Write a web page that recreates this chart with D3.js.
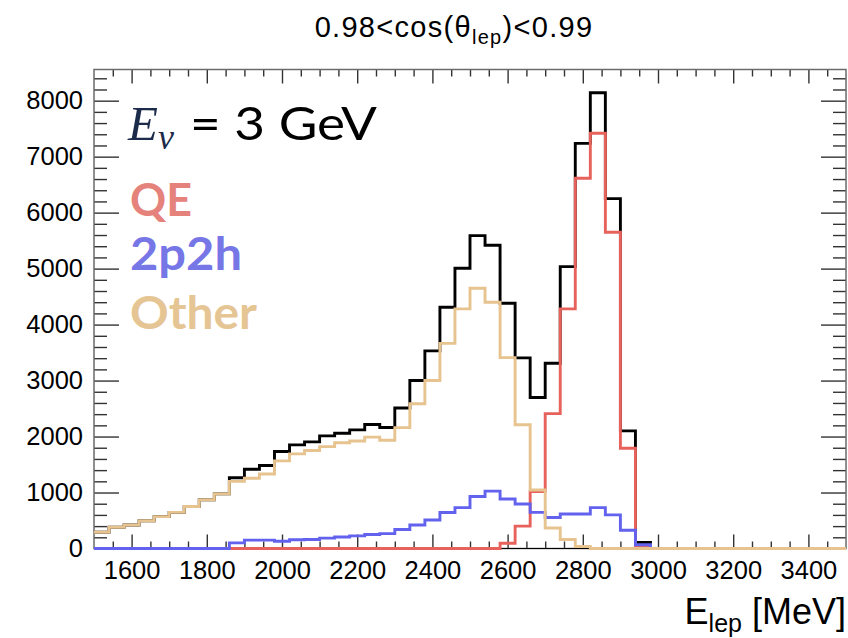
<!DOCTYPE html>
<html>
<head>
<meta charset="utf-8">
<script src="https://cdn.jsdelivr.net/npm/d3@7"></script>
<style>
  body { margin: 0; background: #fff; }
  svg { display: block; }
  .tick text { font-family: "Liberation Sans", Arial, sans-serif; font-size: 25.5px; fill: #000; }
  .tick line { stroke: #333; stroke-width: 1.4; }
</style>
</head>
<body>
<div id="chart"></div>
<script>
// Binning of the lepton energy histograms (MeV)
var binLow = 1500;
var binWidth = 40;

// Bin contents, one entry per 40 MeV bin from 1500 to 3500
var totalCounts = [290, 380, 420, 495, 570, 645, 750, 870, 975, 1265,
    1417, 1482, 1732, 1852, 1905, 2012, 2060, 2119, 2214, 2161,
    2510, 3000, 3530, 4310, 5007, 5590, 5418, 4382, 3405, 2697,
    3310, 5036, 7238, 8143, 6250, 2102, 107, 0, 0, 0,
    0, 0, 0, 0, 0, 0, 0, 0, 0, 0];
var qeCounts = [0, 0, 0, 0, 0, 0, 0, 0, 0, 0,
    0, 0, 0, 0, 0, 0, 0, 0, 0, 0,
    0, 0, 0, 0, 0, 0, 0, 95, 400, 1018,
    2410, 4280, 6614, 7418, 5650, 1792, 48, 0, 0, 0,
    0, 0, 0, 0, 0, 0, 0, 0, 0, 0];
var mecCounts = [0, 0, 0, 0, 0, 0, 0, 0, 0, 100,
    150, 150, 130, 155, 160, 185, 205, 225, 250, 265,
    340, 420, 510, 643, 730, 930, 1025, 885, 795, 645,
    555, 615, 615, 730, 600, 325, 66, 0, 0, 0,
    0, 0, 0, 0, 0, 0, 0, 0, 0, 0];
var otherCounts = [290, 380, 420, 495, 570, 645, 750, 870, 975, 1200,
    1255, 1330, 1565, 1690, 1750, 1820, 1890, 1920, 1990, 1935,
    2160, 2585, 3000, 3665, 4280, 4650, 4400, 3410, 2210, 1045,
    365, 160, 35, 0, 0, 0, 0, 0, 0, 0,
    0, 0, 0, 0, 0, 0, 0, 0, 0, 0];

// Axis ticks
var xMajorTicks = [1600, 1800, 2000, 2200, 2400, 2600, 2800, 3000, 3200, 3400];
var yMajorTicks = [0, 1000, 2000, 3000, 4000, 5000, 6000, 7000, 8000];

var svgWidth = 848;
var svgHeight = 638;

var margin = { top: 69.5, right: 2, bottom: 89.5, left: 94 };
var width = svgWidth - margin.left - margin.right;
var height = svgHeight - margin.top - margin.bottom;

var svg = d3.select("#chart")
    .append("svg")
    .attr("width", svgWidth)
    .attr("height", svgHeight);

var chartGroup = svg.append("g")
    .attr("transform", `translate(${margin.left}, ${margin.top})`);

var xScale = d3.scaleLinear().domain([1500, 3500]).range([0, width]);
var yScale = d3.scaleLinear().domain([0, 8557]).range([height, 0]);

// Minor ticks every 50 MeV and every 200 entries
var xMinor = d3.range(1550, 3500, 50).filter(d => d % 200 !== 0);
var yMinor = d3.range(200, 8557, 200).filter(d => d % 1000 !== 0);

function drawAxis(axis, transform) {
    var g = chartGroup.append("g")
        .attr("transform", transform)
        .call(axis);
    g.select(".domain").remove();
    return g;
}

// bottom and top
drawAxis(d3.axisBottom(xScale).tickValues(xMajorTicks).tickSize(-14).tickPadding(12)
    .tickFormat(d3.format("d")), `translate(0, ${height})`);
drawAxis(d3.axisBottom(xScale).tickValues(xMinor).tickSize(-7).tickFormat(""),
    `translate(0, ${height})`);
drawAxis(d3.axisTop(xScale).tickValues(xMajorTicks).tickSize(-14).tickFormat(""), "translate(0,0)");
drawAxis(d3.axisTop(xScale).tickValues(xMinor).tickSize(-7).tickFormat(""), "translate(0,0)");

// left and right
drawAxis(d3.axisLeft(yScale).tickValues(yMajorTicks).tickSize(-25).tickPadding(11)
    .tickFormat(d3.format("d")), "translate(0,0)");
drawAxis(d3.axisLeft(yScale).tickValues(yMinor).tickSize(-13).tickFormat(""), "translate(0,0)");
drawAxis(d3.axisRight(yScale).tickValues(yMajorTicks).tickSize(-25).tickFormat(""),
    `translate(${width}, 0)`);
drawAxis(d3.axisRight(yScale).tickValues(yMinor).tickSize(-13).tickFormat(""),
    `translate(${width}, 0)`);

// frame
chartGroup.append("rect")
    .attr("width", width)
    .attr("height", height)
    .attr("fill", "none")
    .attr("stroke", "#6b6b6b")
    .attr("stroke-width", 1.5);

chartGroup.append("line")
    .attr("x1", 0).attr("x2", width)
    .attr("y1", height).attr("y2", height)
    .attr("stroke", "#000")
    .attr("stroke-width", 1.2);

chartGroup.append("clipPath")
    .attr("id", "frameClip")
    .append("rect")
    .attr("x", -1).attr("y", 0)
    .attr("width", width + 2)
    .attr("height", height + 2);

// step outline of a histogram
var stepLine = d3.line()
    .x(d => xScale(d[0]))
    .y(d => yScale(d[1]))
    .curve(d3.curveStepAfter);

function histPoints(counts) {
    var pts = counts.map((c, i) => [binLow + i * binWidth, c]);
    pts.push([binLow + counts.length * binWidth, counts[counts.length - 1]]);
    return pts;
}

var series = [
    { counts: totalCounts, color: "#000000" },
    { counts: qeCounts, color: "#e8625c" },
    { counts: mecCounts, color: "#6262ee" },
    { counts: otherCounts, color: "#e6c38f" }
];

chartGroup.append("g")
    .attr("clip-path", "url(#frameClip)")
    .selectAll("path")
    .data(series)
    .enter()
    .append("path")
    .attr("d", d => stepLine(histPoints(d.counts)))
    .attr("fill", "none")
    .attr("stroke", d => d.color)
    .attr("stroke-width", 2.9);

// legend-style labels
var energyLabel = svg.append("text")
    .attr("x", 128)
    .attr("y", 140);
energyLabel.append("tspan")
    .attr("font-family", "'Liberation Serif', serif")
    .attr("font-style", "italic")
    .attr("font-size", 49)
    .attr("fill", "#1c2b4a")
    .text("E");
energyLabel.append("tspan")
    .attr("font-family", "'Liberation Serif', serif")
    .attr("font-style", "italic")
    .attr("font-size", 36)
    .attr("dy", 9)
    .attr("fill", "#1c2b4a")
    .text("ν");

svg.append("text")
    .attr("x", 190)
    .attr("y", 140)
    .attr("font-family", "Lato, sans-serif")
    .attr("font-size", 46)
    .attr("textLength", 187)
    .attr("lengthAdjust", "spacingAndGlyphs")
    .text("= 3 GeV");

var channelLabels = [
    { text: "QE", y: 216, color: "#e5827b", w: 62 },
    { text: "2p2h", y: 270, color: "#7676e6", w: 112 },
    { text: "Other", y: 329, color: "#e6c594", w: 127 }
];

svg.selectAll(".channel")
    .data(channelLabels)
    .enter()
    .append("text")
    .attr("class", "channel")
    .attr("x", 130)
    .attr("y", d => d.y)
    .attr("font-family", "Lato, sans-serif")
    .attr("font-weight", "bold")
    .attr("font-size", 46)
    .attr("textLength", d => d.w)
    .attr("lengthAdjust", "spacingAndGlyphs")
    .attr("fill", d => d.color)
    .text(d => d.text);

// title
var title = svg.append("text")
    .attr("x", 454)
    .attr("y", 37)
    .attr("text-anchor", "middle")
    .attr("font-family", "'Liberation Sans', Arial, sans-serif")
    .attr("font-size", 29)
    .attr("letter-spacing", 1.3);
title.append("tspan").text("0.98<cos(θ");
title.append("tspan").attr("font-size", 20).attr("dy", 7).text("lep");
title.append("tspan").attr("dy", -7).text(")<0.99");

// x axis title
var xTitle = svg.append("text")
    .attr("x", 846)
    .attr("y", 624)
    .attr("text-anchor", "end")
    .attr("font-family", "'Liberation Sans', Arial, sans-serif")
    .attr("font-size", 36);
xTitle.append("tspan").text("E");
xTitle.append("tspan").attr("font-size", 25).attr("dy", 8).text("lep");
xTitle.append("tspan").attr("dy", -8).text(" [MeV]");
</script>
</body>
</html>
